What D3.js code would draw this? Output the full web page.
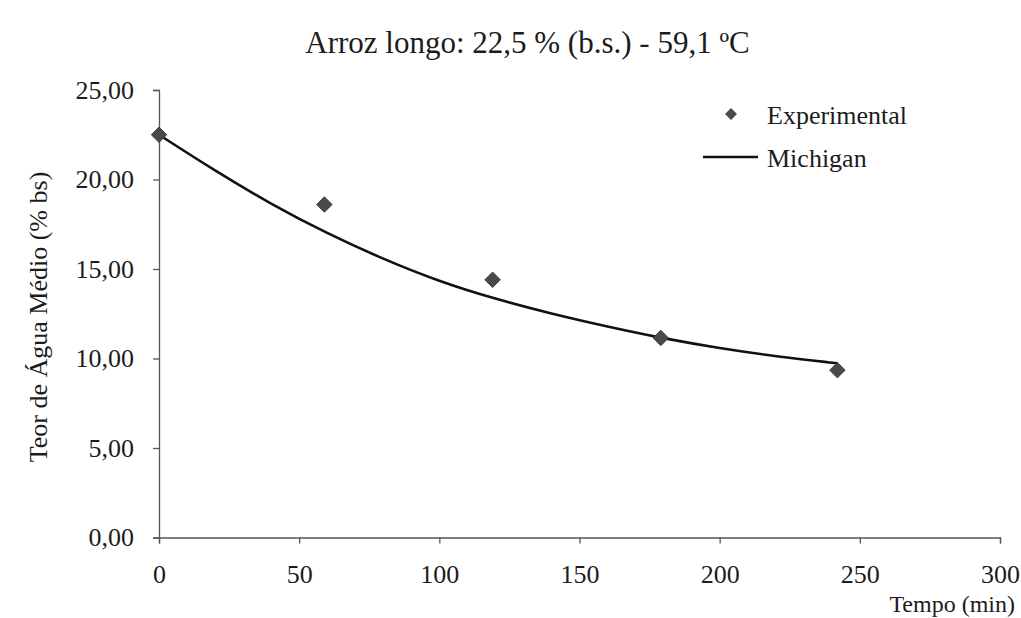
<!DOCTYPE html>
<html><head><meta charset="utf-8">
<script src="https://cdn.jsdelivr.net/npm/d3@7"></script>
<style>body{margin:0;background:#fff;}</style></head>
<body><svg id="c" width="1021" height="618"></svg>
<script>
const title = "Arroz longo: 22,5 % (b.s.) - 59,1 ºC";
const xLabel = "Tempo (min)";
const yLabel = "Teor de Água Médio (% bs)";
const xTicks = [0,50,100,150,200,250,300];
const yTicks = [0,5,10,15,20,25];
const expTime = [0,59,119,179,242];
const expMoisture = [22.5,18.6,14.4,11.15,9.35];
const modelTime = [0,20,40,60,80,100,120,140,160,180,200,220,242];
const modelMoisture = [22.5,20.48,18.62,16.98,15.55,14.3,13.32,12.5,11.78,11.12,10.57,10.12,9.73];
const legendNames = ["Experimental","Michigan"];

const FONT = "Liberation Serif";
const svg = d3.select("#c");
const x = d3.scaleLinear().domain([0,300]).range([159,1000]);
const y = d3.scaleLinear().domain([0,25]).range([537.5,90]);

function txt(sel){ return sel.attr("font-family",FONT).attr("fill","#1c1c1c"); }

txt(svg.append("text")).attr("x",527.5).attr("y",53).attr("text-anchor","middle")
  .attr("font-size",31).text(title);

const gx = svg.append("g").attr("transform","translate(0,537.5)")
  .call(d3.axisBottom(x).tickValues(xTicks).tickSize(6).tickPadding(21).tickFormat(d3.format("d")));
const gy = svg.append("g").attr("transform","translate(159,0)")
  .call(d3.axisLeft(y).tickValues(yTicks).tickSize(6).tickPadding(19).tickFormat(d=>d3.format(".2f")(d).replace(".",",")));
[gx,gy].forEach(g=>{
  g.attr("font-family",FONT).attr("font-size",26);
  g.selectAll("path,line").attr("stroke","#555").attr("stroke-width",1.3);
  g.selectAll("text").attr("fill","#1c1c1c");
});

txt(svg.append("text")).attr("transform","translate(47,317) rotate(-90)").attr("text-anchor","middle")
  .attr("font-size",26).text(yLabel);
txt(svg.append("text")).attr("x",1015).attr("y",612).attr("text-anchor","end")
  .attr("font-size",24).text(xLabel);

const line = d3.line().x(d=>x(d[0])).y(d=>y(d[1])).curve(d3.curveBasis);
svg.append("path").datum(modelTime.map((t,i)=>[t,modelMoisture[i]]))
  .attr("d",line).attr("fill","none").attr("stroke","#111").attr("stroke-width",2.6);

const diamond = d3.symbol().type(d3.symbolSquare).size(120);
svg.selectAll(".pt").data(expTime.map((t,i)=>[t,expMoisture[i]])).enter()
  .append("path").attr("d",diamond).attr("transform",d=>`translate(${x(d[0])},${y(d[1])}) rotate(45)`)
  .attr("fill","#4a4a4a").attr("stroke","#333").attr("stroke-width",0.8);

// legend
svg.append("path").attr("d",d3.symbol().type(d3.symbolSquare).size(72))
  .attr("transform","translate(731,114) rotate(45)").attr("fill","#4a4a4a");
txt(svg.append("text")).attr("x",767).attr("y",124).attr("font-size",26).text(legendNames[0]);
svg.append("line").attr("x1",703).attr("x2",758).attr("y1",157).attr("y2",157).attr("stroke","#111").attr("stroke-width",2.6);
txt(svg.append("text")).attr("x",767).attr("y",167).attr("font-size",26).text(legendNames[1]);
</script></body></html>
